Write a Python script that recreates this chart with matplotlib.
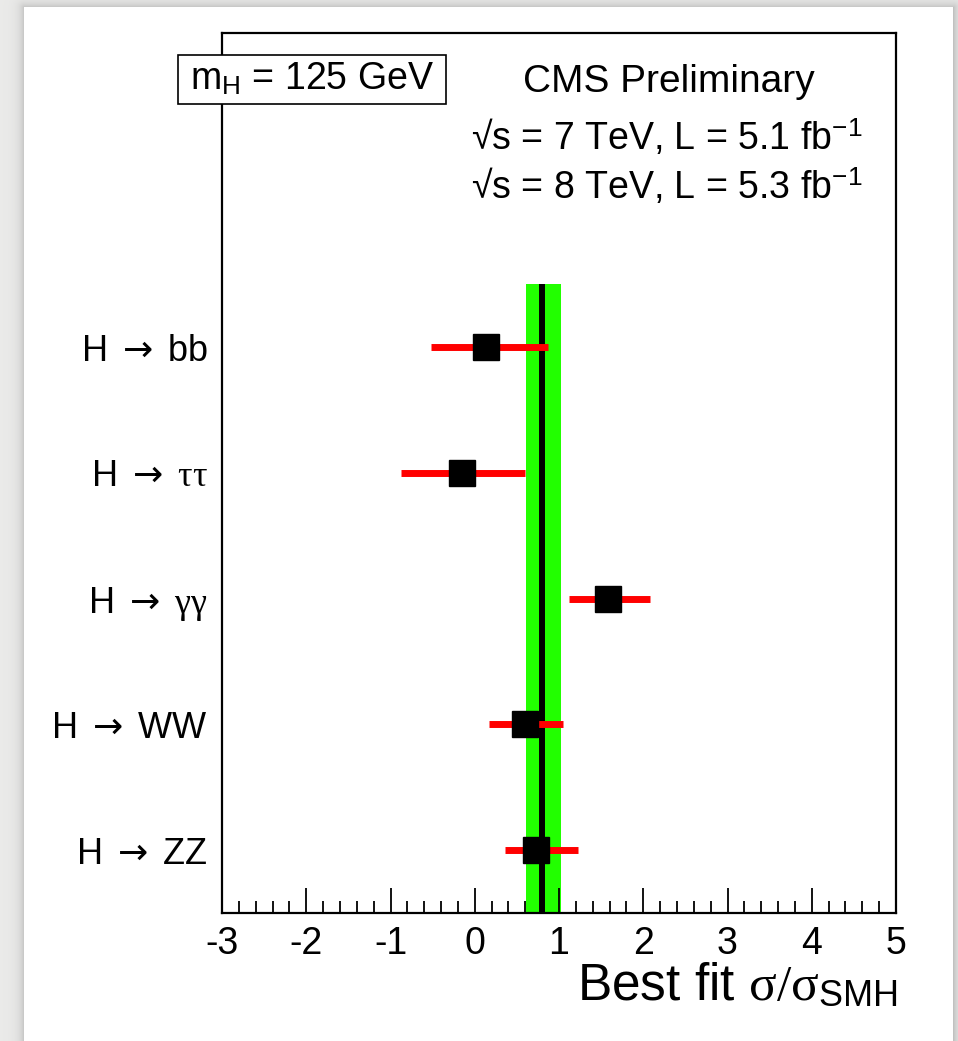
import numpy as np
import matplotlib
matplotlib.use("Agg")
import matplotlib.pyplot as plt
from matplotlib.patches import Rectangle
from matplotlib.ticker import MultipleLocator

plt.rcParams["font.family"] = ["Liberation Sans", "DejaVu Sans"]
plt.rcParams["mathtext.fontset"] = "custom"
plt.rcParams["mathtext.rm"] = "Liberation Serif"
plt.rcParams["mathtext.it"] = "Liberation Serif:italic"
plt.rcParams["mathtext.sf"] = "Liberation Sans"
# math "bf" slot used for a wide, centred arrow glyph
plt.rcParams["mathtext.bf"] = "DejaVu Sans"

ARROW = r"$\mathbf{\rightarrow}$"

# Signal strength per decay channel (best fit and 68% interval)
channels = ["H " + ARROW + " ZZ", "H " + ARROW + " WW",
            "H " + ARROW + r" $\mathrm{\gamma\gamma}$",
            "H " + ARROW + r" $\mathrm{\tau\tau}$", "H " + ARROW + " bb"]
mu_best = [0.73, 0.60, 1.58, -0.15, 0.13]
mu_low = [0.36, 0.17, 1.12, -0.88, -0.52]
mu_high = [1.23, 1.05, 2.08, 0.60, 0.87]

# Combined result
mu_comb = 0.80
comb_low = 0.61
comb_high = 1.02

x_ticks = [-3, -2, -1, 0, 1, 2, 3, 4, 5]

W, H = 958, 1041
fig = plt.figure(figsize=(W / 100, H / 100), dpi=100)


def fx(px):
    return px / W


def fy(py):
    return 1 - py / H


# Paper-like background with a soft drop shadow around the white card
bg = fig.add_axes([0, 0, 1, 1], zorder=0)
bg.set_axis_off()
yy, xx = np.mgrid[0:H, 0:W].astype(float)
cx0, cx1, cy0 = 24, 953, 7
dx = np.maximum(np.maximum(cx0 - xx, xx - cx1), 0)
dy = np.maximum(cy0 - yy, 0)
d = np.hypot(dx, dy)
shade = 0.92 - 0.16 * np.exp(-d / 5.0)
rgb = np.dstack([shade, shade, shade * 0.995])
bg.imshow(rgb, extent=[0, 1, 0, 1], aspect="auto", interpolation="bilinear")
bg.set_xlim(0, 1)
bg.set_ylim(0, 1)
bg.add_patch(Rectangle((fx(cx0), 0), fx(cx1) - fx(cx0), fy(cy0),
                       facecolor="white", edgecolor="none"))

# Main frame
ax = fig.add_axes([fx(222), fy(913), fx(896) - fx(222), fy(33) - fy(913)],
                  zorder=2)
ax.set_facecolor("none")
ax.set_xlim(-3, 5)
ax.set_ylim(0, 7)

ypos = np.arange(len(channels)) + 0.5

ax.fill_betweenx([0, 5], comb_low, comb_high, color="#22ff00", lw=0, zorder=1)
ax.plot([mu_comb, mu_comb], [0, 5], color="black", lw=4.3, zorder=2,
        solid_capstyle="butt")

for y, m, lo, hi in zip(ypos, mu_best, mu_low, mu_high):
    ax.plot([lo, hi], [y, y], color="#ff0000", lw=5, zorder=3,
            solid_capstyle="butt")
    ax.plot([m], [y], marker="s", ms=18.7, color="black", mec="black",
            zorder=4)

ax.set_yticks(ypos)
ax.set_yticklabels(channels, fontsize=26)
ax.tick_params(axis="y", length=0, pad=10)

ax.xaxis.set_major_locator(MultipleLocator(1))
ax.xaxis.set_minor_locator(MultipleLocator(0.2))
ax.set_xticks(x_ticks)
ax.set_xticklabels([str(t) for t in x_ticks], fontsize=27)
ax.tick_params(axis="x", which="major", direction="in", length=18, width=1.3,
               pad=9, top=False)
ax.tick_params(axis="x", which="minor", direction="in", length=9, width=1.3,
               top=False)
for s in ax.spines.values():
    s.set_linewidth(1.6)

fig.text(fx(897), fy(1000), r"Best fit $\mathrm{\sigma/\sigma}_{\mathsf{SMH}}$",
         ha="right", va="baseline", fontsize=37, zorder=3)

# Annotations
fig.text(fx(669), fy(92), "CMS Preliminary", ha="center", va="baseline",
         fontsize=28, zorder=3)
fig.text(fx(862), fy(150), r"√s = 7 TeV, L = 5.1 fb$^{\mathsf{-1}}$",
         ha="right", va="baseline", fontsize=27, zorder=3)
fig.text(fx(862), fy(199), r"√s = 8 TeV, L = 5.3 fb$^{\mathsf{-1}}$",
         ha="right", va="baseline", fontsize=27, zorder=3)

box = Rectangle((fx(178), fy(104)), fx(446) - fx(178), fy(55) - fy(104),
                transform=fig.transFigure, facecolor="white",
                edgecolor="black", lw=1.2, zorder=3)
fig.add_artist(box)
fig.text(fx(312), fy(90), r"m$_{\mathsf{H}}$ = 125 GeV", ha="center",
         va="baseline", fontsize=27, zorder=4)

fig.savefig("out.png", dpi=100)
